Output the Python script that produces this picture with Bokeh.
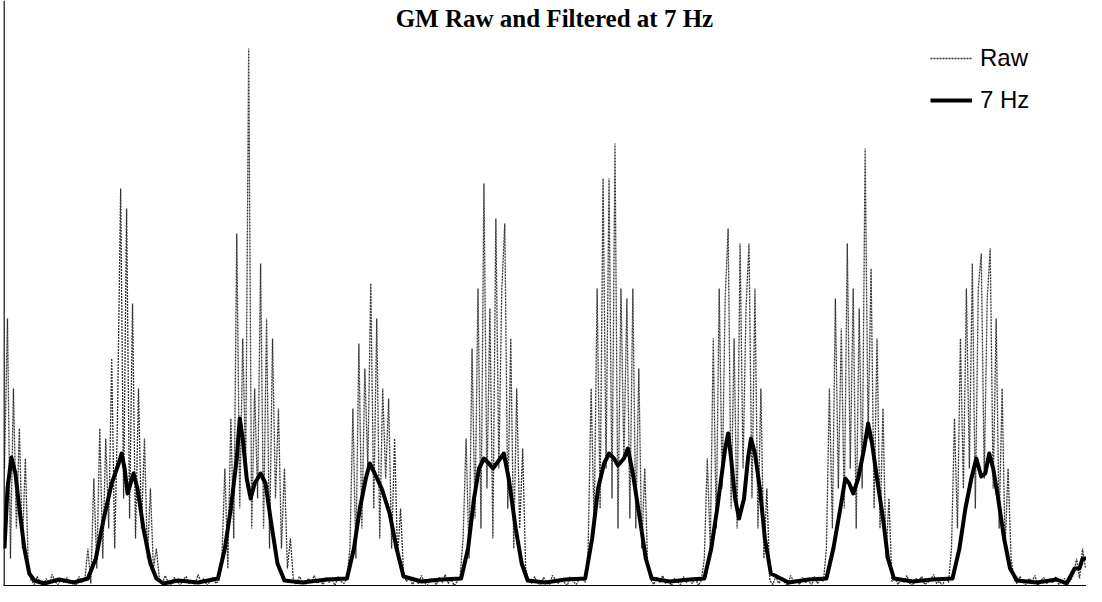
from bokeh.plotting import figure
from bokeh.models import Range1d, Legend, LegendItem, Label, Span
from bokeh.embed import file_html
from bokeh.resources import INLINE

raw_step = 3
raw_y = [
 # burst 1 (x 0-24)
 120,270,30,200,60,160,40,130,20,
 # baseline x 27-81
 8,4,12,6,3,10,5,14,7,4,9,6,11,5,8,3,12,6,9,
 # burst 2 x 84-153
 40,5,110,20,160,30,150,60,230,40,180,400,90,380,70,285,50,200,60,150,30,100,20,40,
 # baseline x 156-216
 10,5,13,6,4,11,7,3,9,12,5,8,4,14,6,10,3,7,11,5,8,
 # burst 3 x 219-288
 30,120,20,170,50,355,80,250,120,540,60,200,90,325,60,270,40,250,90,180,40,120,20,50,
 # baseline x 291-345
 9,4,12,7,3,10,6,13,5,8,4,11,6,9,3,12,7,5,10,
 # burst 4 x 348-402
 40,180,30,245,60,220,120,305,80,270,50,200,110,190,40,150,30,80,15,
 # baseline x 405-459
 7,12,4,9,5,13,6,3,10,8,4,11,6,14,5,9,3,7,12,
 # burst 5 x 462-525
 50,150,30,240,70,300,60,405,100,280,50,370,120,300,365,80,250,40,200,60,140,20,
 # baseline x 528-585
 8,5,12,6,3,11,7,4,13,9,5,10,6,3,12,7,4,9,11,6,
 # burst 6 x 588-648
 40,200,60,300,80,410,120,410,90,445,60,300,130,290,70,300,60,220,40,120,20,
 # baseline x 651-702
 9,4,11,6,13,5,8,3,10,7,4,12,6,9,5,11,3,8,
 # burst 7 x 705-768
 30,130,40,250,60,300,100,290,360,80,250,60,345,120,280,345,90,300,60,200,30,100,
 # baseline x 771-825
 8,4,12,5,10,6,3,13,7,9,4,11,6,8,3,12,5,9,7,
 # burst 8 x 828-891
 40,200,60,290,100,260,80,345,120,300,60,280,100,440,150,320,80,250,60,180,30,90,
 # baseline x 894-951
 7,11,4,9,6,13,5,3,10,8,12,4,6,9,14,5,7,3,11,6,
 # burst 9 x 954-1014
 40,170,60,250,100,300,120,325,80,300,335,110,290,340,100,270,60,200,40,120,30,
 # baseline x 1017-1077
 9,5,12,6,4,10,7,13,3,8,11,5,9,6,12,4,7,10,5,8,14,
 # tail x 1080-1089
 30,10,40,20,
]
raw_x = [raw_step * i for i in range(len(raw_y))]

filt_x = [0,3,7,11,15,20,25,30,40,55,70,84,92,100,108,115,118,121,124,127,130,134,140,147,153,160,
          175,195,215,222,228,234,237,240,244,248,252,258,263,268,275,282,300,325,345,352,358,364,368,
          373,380,388,395,402,420,440,460,467,473,478,483,488,492,498,503,508,515,521,527,545,565,585,
          592,598,604,609,614,618,624,628,633,640,646,652,670,690,705,712,718,722,726,729,732,736,740,
          745,749,752,756,761,766,772,790,810,828,835,842,847,851,855,860,866,870,874,879,885,890,896,
          915,935,955,962,968,974,979,984,988,992,996,1001,1007,1013,1020,1040,1060,1070,1078,1083,1086,1090]
filt_y = [40,100,131,115,80,40,15,8,5,9,6,10,30,70,105,125,135,120,95,105,115,100,60,25,10,5,
          8,6,10,40,80,130,170,150,110,90,105,115,105,70,25,8,6,9,10,40,80,110,125,
          115,100,75,40,12,7,9,10,40,90,120,130,125,120,128,135,110,60,25,8,6,9,10,
          50,100,125,135,130,123,130,140,115,70,30,10,7,9,10,40,80,110,140,155,130,90,70,
          90,130,150,135,100,50,15,6,9,10,40,80,110,105,95,110,140,165,145,110,70,30,10,
          7,9,10,40,80,110,130,112,115,135,120,90,50,20,8,6,9,5,20,20,30,30]

p = figure(width=1086, height=586, output_backend="svg", toolbar_location=None,
           x_range=Range1d(-1, 1090), y_range=Range1d(2, 588),
           min_border_left=3, min_border_right=0, min_border_top=0, min_border_bottom=0)
p.outline_line_color = None
p.grid.visible = False
p.xaxis.visible = False
p.yaxis.visible = False
p.add_layout(Span(location=-0.5, dimension="height", line_color="black", line_width=1.5))
p.add_layout(Span(location=2.8, dimension="width", line_color="black", line_width=1.5))

r_raw = p.line(raw_x, raw_y, line_color="#333333", line_width=1.3, line_dash="2 1")
r_f = p.line(filt_x, filt_y, line_color="black", line_width=4, line_join="round")

legend = Legend(items=[LegendItem(label="Raw", renderers=[r_raw]),
                       LegendItem(label="7 Hz", renderers=[r_f])],
                location=(927, 472), background_fill_alpha=0, border_line_color=None,
                label_text_font="Liberation Sans", label_text_font_size="24px",
                label_text_color="black", label_height=28, glyph_height=28,
                glyph_width=42, spacing=14, padding=0, label_standoff=8)
p.add_layout(legend, "center")

p.add_layout(Label(x=554, y=568, x_units="data", y_units="screen",
                   text="GM Raw and Filtered at 7 Hz", text_align="center",
                   text_baseline="middle", text_font="Liberation Serif", text_color="black",
                   text_font_size="25px", text_font_style="bold"))

open("out.html", "w").write(file_html(p, INLINE))
